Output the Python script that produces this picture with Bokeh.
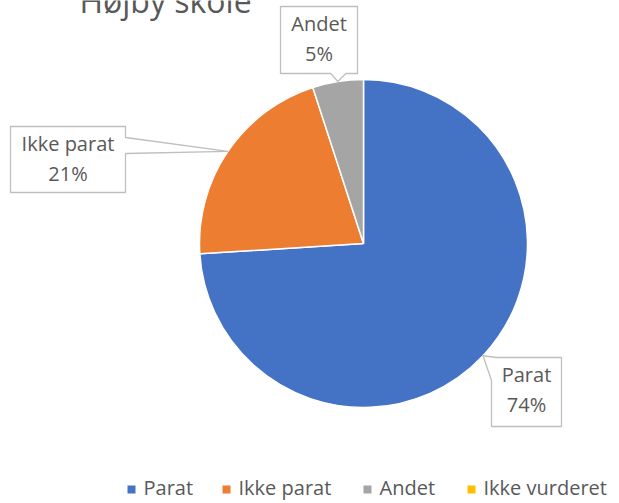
import math
from bokeh.plotting import figure
from bokeh.models import Range1d, ColumnDataSource
from bokeh.core.properties import value
from bokeh.embed import file_html
from bokeh.resources import INLINE

# ---- data ----
title = "Højby skole"
categories = ["Parat", "Ikke parat", "Andet", "Ikke vurderet"]
values = [74, 21, 5, 0]
colors = ["#4472C4", "#ED7D31", "#A5A5A5", "#FFC000"]

# ---- layout (picture pixel coordinates, y downward) ----
W, H = 619, 503
CX, CY, R = 363, 243, 164
FONT = "Open Sans"
TXT = "#595959"
FS = 20  # label / legend font size (px)
# callout boxes: (left, top, width, height) for labelled slices
boxes = {
    "Parat": (491, 357, 70, 69),
    "Ikke parat": (10, 126, 115, 66),
    "Andet": (280, 6, 77, 67),
}
legend_x = [131, 226, 367, 471]
legend_y = 489

p = figure(width=W, height=H, output_backend="svg", toolbar_location=None,
           x_range=Range1d(0, W), y_range=Range1d(-H, 0),
           min_border=0, outline_line_color=None)
p.axis.visible = False
p.grid.visible = False
p.background_fill_color = "white"
p.border_fill_color = "white"

total = sum(values)
starts, ends, mids = [], [], []
cum = 0.0
for v in values:
    a0 = math.pi / 2 - 2 * math.pi * cum / total
    cum += v
    a1 = math.pi / 2 - 2 * math.pi * cum / total
    starts.append(a0)
    ends.append(a1)
    mids.append((a0 + a1) / 2)

idx = [i for i, v in enumerate(values) if v > 0]
src = ColumnDataSource(dict(
    x=[CX] * len(idx), y=[-CY] * len(idx),
    start=[starts[i] for i in idx], end=[ends[i] for i in idx],
    color=[colors[i] for i in idx]))
p.wedge(x="x", y="y", radius=R, start_angle="start", end_angle="end",
        direction="clock", fill_color="color", line_color="white",
        line_width=1.5, source=src)

# callouts
xs, ys, tx, ty1, ty2, t1, t2 = [], [], [], [], [], [], []
for i in idx:
    cat = categories[i]
    l, t, w, h = boxes[cat]
    r_, b_ = l + w, t + h
    tipx = CX + R * math.cos(mids[i])
    tipy = CY - R * math.sin(mids[i])
    if tipy > b_:  # pointer below box
        pts = [(l, t), (r_, t), (r_, b_), (tipx + 8, b_), (tipx, tipy), (tipx - 7, b_), (l, b_)]
    elif tipx > r_:  # pointer right of box
        pts = [(l, t), (r_, t), (r_, t + 11), (tipx, tipy), (r_, t + 27), (r_, b_), (l, b_)]
    else:  # pointer top-left
        pts = [(tipx, tipy), (l + 5, t), (r_, t), (r_, b_), (l, b_), (l, t + 23)]
    xs.append([q[0] for q in pts])
    ys.append([-q[1] for q in pts])
    tx.append(l + w / 2)
    ty1.append(-(t + 27 - FS / 2))
    ty2.append(-(t + 57 - FS / 2))
    t1.append(cat)
    t2.append(f"{round(100 * values[i] / total)}%")

p.patches(xs, ys, fill_color="white", line_color="#BFBFBF", line_width=1.3)
p.text(x=tx, y=ty1, text=t1, text_align="center", text_baseline="middle",
       text_font=value(FONT), text_font_size=f"{FS}px", text_color=TXT)
p.text(x=tx, y=ty2, text=t2, text_align="center", text_baseline="middle",
       text_font=value(FONT), text_font_size=f"{FS}px", text_color=TXT)

# title (partly cut at the top, as in the original)
p.text(x=[165], y=[-(16 - 16)], text=[title], text_align="center", text_baseline="middle",
       text_font=value(FONT), text_font_size="32px", text_color=TXT)

# legend
p.rect(x=legend_x, y=[-legend_y] * 4, width=8, height=8, fill_color=colors, line_color=None)
p.text(x=[x + 12 for x in legend_x], y=[-(legend_y + 8 - FS / 2)] * 4, text=categories,
       text_align="left", text_baseline="middle",
       text_font=value(FONT), text_font_size=f"{FS}px", text_color=TXT)

open("out.html", "w").write(file_html(p, INLINE))
